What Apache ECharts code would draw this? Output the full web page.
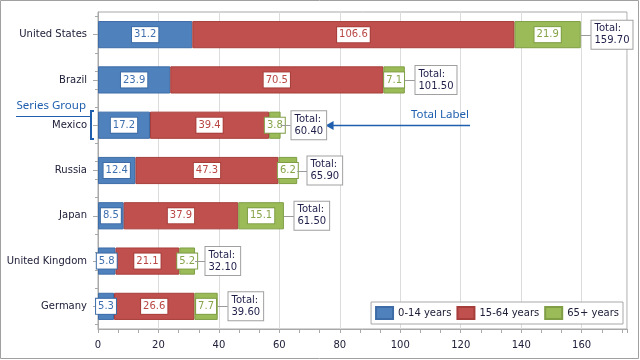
<!DOCTYPE html>
<html>
<head>
<meta charset="utf-8">
<script src="https://cdn.jsdelivr.net/npm/echarts@6/dist/echarts.min.js"></script>
<style>
html,body{margin:0;padding:0;background:#fff;}
#chart{width:640px;height:360px;}
</style>
</head>
<body>
<div id="chart"></div>
<script>
const categories = ['United States', 'Brazil', 'Mexico', 'Russia', 'Japan', 'United Kingdom', 'Germany'];
const seriesNames = ['0-14 years', '15-64 years', '65+ years'];
const age0to14 = [31.2, 23.9, 17.2, 12.4, 8.5, 5.8, 5.3];
const age15to64 = [106.6, 70.5, 39.4, 47.3, 37.9, 21.1, 26.6];
const age65plus = [21.9, 7.1, 3.8, 6.2, 15.1, 5.2, 7.7];
const xTicks = [0, 20, 40, 60, 80, 100, 120, 140, 160];

const totals = categories.map((c, i) => +(age0to14[i] + age15to64[i] + age65plus[i]).toFixed(2));

const FONT = 'DejaVu Sans';
const colors = ['#4f81bd', '#c0504d', '#9bbb59'];
const borders = ['#3d6ca6', '#a63e3b', '#7f9e45'];
const labelText = ['#3e6fae', '#b84744', '#86a44a'];

// helper categories for the y axis minor ticks (5 per category)
const subCats = [];
categories.forEach((c, i) => { for (let k = 0; k < 5; k++) subCats.push(c + '_' + k); });

function barSeries(idx, data) {
  return {
    name: seriesNames[idx],
    type: 'bar',
    stack: 'total',
    barWidth: '60%',
    data: data,
    itemStyle: { color: colors[idx], borderColor: borders[idx], borderWidth: 1 },
    label: {
      show: true,
      position: 'inside',
      formatter: p => p.value.toFixed(1),
      color: labelText[idx],
      fontFamily: FONT,
      fontSize: 10,
      backgroundColor: '#ffffff',
      borderColor: borders[idx],
      borderWidth: 1,
      padding: [2, 2, 1, 2],
      lineHeight: 12
    },
    emphasis: { disabled: true },
    animation: false
  };
}

const chart = echarts.init(document.getElementById('chart'), null, { renderer: 'canvas' });

const option = {
  animation: false,
  grid: { left: 98, right: 13, top: 12, bottom: 31, show: true, borderColor: '#a8a8a8', borderWidth: 1, backgroundColor: '#ffffff' },
  legend: {
    data: seriesNames,
    right: 17,
    bottom: 36,
    orient: 'horizontal',
    backgroundColor: '#ffffff',
    borderColor: '#a8a8a8',
    borderWidth: 1,
    padding: [4, 4, 4, 4],
    itemWidth: 17,
    itemHeight: 12,
    itemGap: 5,
    icon: 'rect',
    textStyle: { fontFamily: FONT, fontSize: 10, color: '#20203a' },
    selectedMode: false
  },
  xAxis: {
    type: 'value',
    min: 0,
    max: 175,
    interval: 20,
    axisLine: { show: true, lineStyle: { color: '#a8a8a8' } },
    axisTick: { show: true, length: 4, lineStyle: { color: '#a8a8a8' } },
    minorTick: { show: true, splitNumber: 3, length: 4, lineStyle: { color: '#a8a8a8' } },
    splitLine: { show: true, lineStyle: { color: '#dcdcdc' } },
    axisLabel: {
      margin: 11,
      fontFamily: FONT, fontSize: 10, color: '#20203a',
      formatter: v => (xTicks.indexOf(v) >= 0 ? String(v) : '')
    }
  },
  yAxis: [{
    type: 'category',
    data: categories,
    inverse: true,
    axisLine: { show: true, lineStyle: { color: '#a8a8a8' } },
    axisTick: { show: true, alignWithLabel: true, length: 5, lineStyle: { color: '#a8a8a8' } },
    axisLabel: { margin: 11, fontFamily: FONT, fontSize: 10, color: '#20203a' },
    splitLine: { show: false }
  }, {
    type: 'category',
    data: subCats,
    inverse: true,
    position: 'left',
    axisLine: { show: false },
    axisTick: { show: true, alignWithLabel: true, length: 3, lineStyle: { color: '#a8a8a8' } },
    axisLabel: { show: false },
    splitLine: { show: false }
  }],
  series: [
    barSeries(0, age0to14),
    barSeries(1, age15to64),
    barSeries(2, age65plus),
    {
      name: 'Total',
      type: 'custom',
      clip: false,
      silent: true,
      z: 5,
      data: categories.map((c, i) => [totals[i], c]),
      encode: { x: 0, y: 1 },
      renderItem: function (params, api) {
        const end = api.coord([api.value(0), params.dataIndex]);
        const gap = 10;
        return {
          type: 'group',
          children: [
            { type: 'line', shape: { x1: end[0], y1: Math.round(end[1]) + 0.5, x2: end[0] + gap, y2: Math.round(end[1]) + 0.5 }, style: { stroke: '#9a9a9a', lineWidth: 1 } },
            {
              type: 'text',
              x: Math.round(end[0] + gap) + 0.5,
              y: end[1],
              style: {
                text: 'Total:\n' + api.value(0).toFixed(2),
                fill: '#1f1f4a',
                font: '10px "' + FONT + '"',
                align: 'left',
                verticalAlign: 'middle',
                backgroundColor: '#ffffff',
                borderColor: '#a0a0a0',
                borderWidth: 1,
                padding: [2, 3, 2, 3],
                lineHeight: 12
              }
            }
          ]
        };
      }
    }
  ]
};

chart.setOption(option);

// Annotations positioned from the chart's own scales
const mi = categories.indexOf('Mexico');
const mx = chart.convertToPixel({ xAxisIndex: 0 }, totals[mi]);
const my = Math.round(chart.convertToPixel({ yAxisIndex: 0 }, 'Mexico'));
const left = 98;
const tipX = mx + 45;
const blue = '#1f5fae';

chart.setOption({
  graphic: [
    { type: 'rect', shape: { x: 0.5, y: 0.5, width: 638, height: 358 }, style: { fill: 'none', stroke: '#a0a0a0', lineWidth: 1 }, silent: true },
    // Series Group annotation
    { type: 'text', x: left - 12, y: my - 19, style: { text: 'Series Group', fill: blue, font: '11.5px "Noto Sans"', align: 'right', verticalAlign: 'middle' }, silent: true },
    { type: 'line', shape: { x1: 16, y1: my - 8.5, x2: left - 7, y2: my - 8.5 }, style: { stroke: blue, lineWidth: 1.2 }, silent: true },
    { type: 'polyline', shape: { points: [[left - 4, my - 14], [left - 7, my - 14], [left - 7, my + 14], [left - 4, my + 14]] }, style: { stroke: blue, lineWidth: 2, fill: 'none' }, silent: true },
    // Total Label annotation
    { type: 'text', x: 469, y: my - 10, style: { text: 'Total Label', fill: blue, font: '11.5px "Noto Sans"', align: 'right', verticalAlign: 'middle' }, silent: true },
    { type: 'line', shape: { x1: tipX + 7, y1: my + 0.5, x2: 470, y2: my + 0.5 }, style: { stroke: blue, lineWidth: 1.3 }, silent: true },
    { type: 'polygon', shape: { points: [[tipX, my + 0.5], [tipX + 8, my - 4], [tipX + 8, my + 5]] }, style: { fill: blue }, silent: true }
  ]
});
</script>
</body>
</html>
